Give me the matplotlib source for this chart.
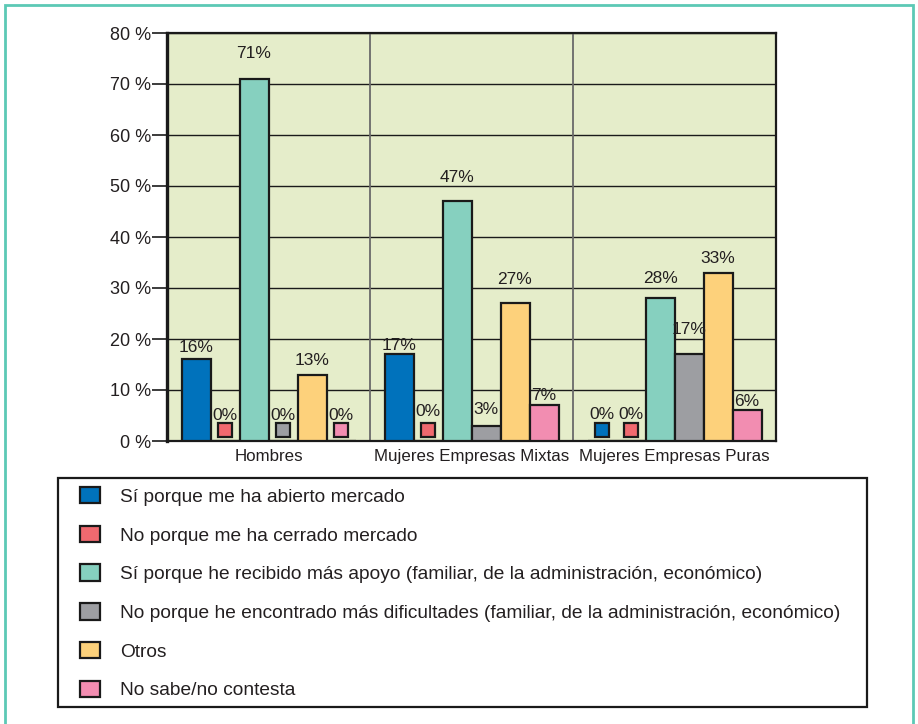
import matplotlib.pyplot as plt
import matplotlib.transforms as mtransforms
from matplotlib.patches import Rectangle
import numpy as np

plt.rcParams['font.family'] = ['Liberation Sans', 'DejaVu Sans']

### Data ###
groups = ['Hombres', 'Mujeres Empresas Mixtas', 'Mujeres Empresas Puras']
series = ['Sí porque me ha abierto mercado',
          'No porque me ha cerrado mercado',
          'Sí porque he recibido más apoyo (familiar, de la administración, económico)',
          'No porque he encontrado más dificultades (familiar, de la administración, económico)',
          'Otros',
          'No sabe/no contesta']
abierto = [16, 17, 0]
cerrado = [0, 0, 0]
apoyo = [71, 47, 28]
dificultades = [0, 3, 17]
otros = [13, 27, 33]
ns_nc = [0, 7, 6]
yticks = [0, 10, 20, 30, 40, 50, 60, 70, 80]

values = [abierto, cerrado, apoyo, dificultades, otros, ns_nc]
colors = ['#0072bc', '#f0696f', '#86d0bf', '#9d9ea2', '#fdd17b', '#f28db1']
# gap (px) between bar top and its label
label_gap = [[4, 1, 19],
             [18, 22, 19],
             [18, 16, 12],
             [18, 9, 17],
             [7, 16, 7],
             [18, 2, 1]]

W, H = 918, 724
fig = plt.figure(figsize=(W / 100, H / 100), dpi=100)
fig.patch.set_facecolor('white')

# outer frame
fig.patches.append(Rectangle((5 / W, -0.05), 908 / W, 1.05 - 5 / H,
                             transform=fig.transFigure, fill=False,
                             edgecolor='#5cc9b5', linewidth=2))

ax = fig.add_axes([167 / W, 1 - 441 / H, (776 - 167) / W, (441 - 33) / H])
ax.set_facecolor('#e5edca')

x = np.arange(len(groups))
bw = 1 / 7
txt = '#231f20'
handles = []
for i, vals in enumerate(values):
    xs = x + (i - 2.5) * bw
    bars = ax.bar(xs, vals, bw, color=colors[i], edgecolor='#1a1a1a',
                  linewidth=1.6, zorder=3)
    handles.append(bars)
    for j, v in enumerate(vals):
        if v == 0:
            # zero answers shown as a small box sitting on the axis
            tr = mtransforms.offset_copy(ax.transData, fig=fig, x=0, y=11, units='dots')
            ax.plot(xs[j], v, marker='s', ms=9.5, mfc=colors[i], mec='#1a1a1a',
                    mew=1.6, transform=tr, zorder=4, clip_on=False)
        ax.annotate('%d%%' % v, xy=(xs[j], v), xytext=(0, label_gap[i][j] * 0.72),
                    textcoords='offset points', ha='center', va='bottom',
                    fontsize=12.5, color=txt, zorder=5)

ax.set_xlim(-0.5, 2.5)
ax.set_ylim(0, 80)
ax.set_yticks(yticks)
ax.set_yticklabels(['%d %%' % t for t in yticks], fontsize=13, color=txt)
ax.set_xticks(x)
ax.set_xticklabels(groups, fontsize=12.2, color=txt)
ax.tick_params(axis='y', length=10.5, width=1.2, pad=1, color='#1a1a1a')
ax.tick_params(axis='x', length=0, pad=6)
ax.grid(axis='y', color='#1a1a1a', linewidth=1.0, zorder=1)
ax.set_axisbelow(True)
for xv in [0.5, 1.5]:
    ax.axvline(xv, color='#6a6a6a', linewidth=1.3, zorder=1)
for s in ax.spines.values():
    s.set_color('#1a1a1a')
    s.set_linewidth(1.6)
ax.spines['left'].set_linewidth(2.4)

# legend box
fig.patches.append(Rectangle((58 / W, 1 - 707 / H), (867 - 58) / W, (707 - 478) / H,
                             transform=fig.transFigure, fill=False,
                             edgecolor='#1a1a1a', linewidth=1.6))
leg = fig.legend([h[0] for h in handles], series, loc='upper left',
                 bbox_to_anchor=(80 / W, 1 - 487 / H), ncol=1, fontsize=13.8,
                 frameon=False, handlelength=1.04, handleheight=0.94,
                 handletextpad=1.04, labelspacing=1.04, borderpad=0, borderaxespad=0)
for t in leg.get_texts():
    t.set_color(txt)

plt.savefig('out.png', dpi=100)
